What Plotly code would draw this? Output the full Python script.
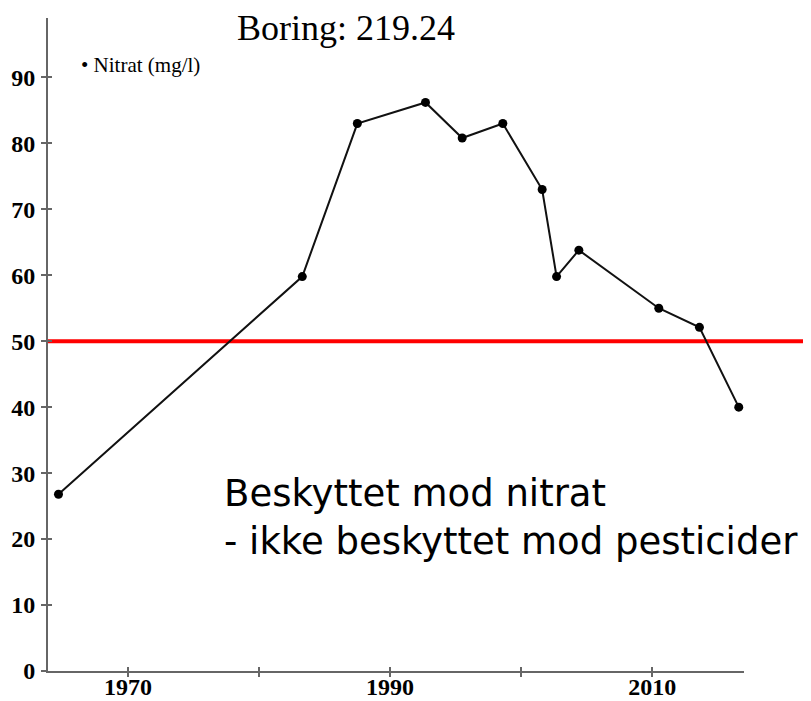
import plotly.graph_objects as go

# Data
years = [1964.7, 1983.3, 1987.5, 1992.7, 1995.5, 1998.6, 2001.6, 2002.7, 2004.4, 2010.5, 2013.6, 2016.6]
nitrat = [26.8, 59.8, 83.0, 86.2, 80.8, 83.0, 73.0, 59.8, 63.8, 55.0, 52.1, 40.0]
limit_value = 50
x_tick_vals = [1970, 1980, 1990, 2000, 2010]
x_tick_text = ["1970", "", "1990", "", "2010"]
y_tick_vals = [0, 10, 20, 30, 40, 50, 60, 70, 80, 90]
title_text = "Boring: 219.24"
legend_text = "\u2022 Nitrat (mg/l)"
note_text = "Beskyttet mod nitrat<br>- ikke beskyttet mod pesticider"

# The page body has an 8px default margin, so the figure is sized to fit the window.
OFF = 8
WIN_W, WIN_H = 811, 701
W, H = WIN_W - OFF, WIN_H - OFF
# plot edges in window pixels
PL, PR, PT, PB = 48, 744, 18, 671
L, R, T, B = PL - OFF, W - (PR - OFF), PT - OFF, H - (PB - OFF)
x_range = [1963.9, 2017.0]
y_range = [0, 99]
axis_col = "#666666"
serif = "Liberation Serif, Times New Roman, serif"

pw = PR - PL
ph = PB - PT
def px_x(p):
    return (p - PL) / pw
def px_y(p):
    return (PB - p) / ph

fig = go.Figure()
fig.add_trace(go.Scatter(
    x=years, y=nitrat, mode="lines+markers",
    line=dict(color="#111111", width=2),
    marker=dict(color="#000000", size=9),
    showlegend=False, cliponaxis=False,
))
# empty trace to host the overlay axes (other half of the crossing ticks)
fig.add_trace(go.Scatter(x=[None], y=[None], xaxis="x2", yaxis="y2",
                         showlegend=False, hoverinfo="skip"))

tickfont = dict(family=serif, size=24, color="#000000", weight="bold")

fig.update_layout(
    width=W, height=H,
    margin=dict(l=L, r=R, t=T, b=B, pad=0, autoexpand=False),
    paper_bgcolor="white", plot_bgcolor="white",
    showlegend=False,
    xaxis=dict(range=x_range, tickvals=x_tick_vals, ticktext=x_tick_text,
               ticks="inside", ticklen=4, tickwidth=1.5, tickcolor=axis_col,
               showline=True, linecolor=axis_col, linewidth=2,
               showgrid=False, zeroline=False, tickfont=tickfont,
               ticklabelstandoff=-7, automargin=False),
    yaxis=dict(range=y_range, tickvals=y_tick_vals,
               ticks="outside", ticklen=5, tickwidth=1.5, tickcolor=axis_col,
               showline=True, linecolor=axis_col, linewidth=2,
               showgrid=False, zeroline=False, tickfont=tickfont,
               ticklabelstandoff=1, automargin=False),
    xaxis2=dict(overlaying="x", anchor="y2", range=x_range, tickvals=x_tick_vals,
                ticks="outside", ticklen=5, tickwidth=1.5, tickcolor=axis_col,
                showticklabels=False, showline=False, showgrid=False, zeroline=False,
                automargin=False),
    yaxis2=dict(overlaying="y", anchor="x2", range=y_range, tickvals=y_tick_vals,
                ticks="inside", ticklen=4, tickwidth=1.5, tickcolor=axis_col,
                showticklabels=False, showline=False, showgrid=False, zeroline=False,
                automargin=False),
)

# threshold line at 50 mg/l, extending past the axis end
fig.add_shape(type="line", xref="paper", yref="y",
              x0=0, x1=px_x(805), y0=limit_value, y1=limit_value,
              line=dict(color="#ff0000", width=4), layer="below")

fig.add_annotation(text=title_text, xref="paper", yref="paper",
                   x=px_x(346), y=px_y(50), xanchor="center", yanchor="bottom",
                   showarrow=False, font=dict(family=serif, size=36, color="#000000"))
fig.add_annotation(text=legend_text, xref="paper", yref="paper",
                   x=px_x(79), y=px_y(79), xanchor="left", yanchor="bottom",
                   showarrow=False, font=dict(family=serif, size=21, color="#000000"))
fig.add_annotation(text=note_text, xref="paper", yref="paper",
                   x=px_x(222), y=px_y(470), xanchor="left", yanchor="top",
                   align="left", showarrow=False,
                   font=dict(family="DejaVu Sans, Verdana, sans-serif", size=37, color="#000000"))

fig.write_html("out.html")
